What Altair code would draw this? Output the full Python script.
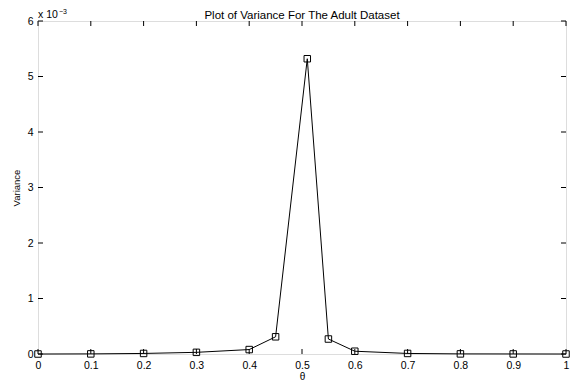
import altair as alt
import pandas as pd

# Data
theta = [0.0, 0.1, 0.2, 0.3, 0.4, 0.45, 0.51, 0.55, 0.6, 0.7, 0.8, 0.9, 1.0]
variance = [0.0, 0.002e-3, 0.01e-3, 0.03e-3, 0.08e-3, 0.31e-3, 5.32e-3,
            0.27e-3, 0.05e-3, 0.01e-3, 0.002e-3, 0.001e-3, 0.0]
x_ticks = [0.0, 0.1, 0.2, 0.3, 0.4, 0.5, 0.6, 0.7, 0.8, 0.9, 1.0]
y_ticks = [0.0, 0.001, 0.002, 0.003, 0.004, 0.005, 0.006]
title_text = "Plot of Variance For The Adult Dataset"

W, H = 528, 333
FONT = "Liberation Sans"

df = pd.DataFrame({"theta": theta, "variance": variance})
xt = pd.DataFrame({"t": x_ticks})
yt = pd.DataFrame({"t": y_ticks})

xscale = alt.Scale(domain=[0, 1], nice=False, zero=False)
yscale = alt.Scale(domain=[0, 0.006], nice=False, zero=False)

xaxis = alt.Axis(values=x_ticks, labelExpr="format(datum.value, '~g')",
                 tickSize=0, domain=False, grid=False, labelPadding=6,
                 labelFontSize=10.5, labelFont=FONT, labelColor="black",
                 title="θ", titleFontSize=10, titleFont=FONT,
                 titleFontWeight="normal", titleColor="black", titlePadding=1,
                 labelFlush=False)
yaxis = alt.Axis(values=y_ticks, labelExpr="round(datum.value * 1000)",
                 tickSize=0, domain=False, grid=False, labelPadding=5,
                 labelFontSize=10.5, labelFont=FONT, labelColor="black",
                 title="Variance", titleFontSize=9.5, titleFont=FONT,
                 titleFontWeight="normal", titleColor="black", titlePadding=6,
                 labelFlush=False)

base = alt.Chart(df)
line = base.mark_line(color="black", strokeWidth=1).encode(
    x=alt.X("theta:Q", scale=xscale, axis=xaxis),
    y=alt.Y("variance:Q", scale=yscale, axis=yaxis),
)
pts = base.mark_point(shape="square", filled=False, color="black",
                      size=42, strokeWidth=1, opacity=1).encode(
    x=alt.X("theta:Q", scale=xscale),
    y=alt.Y("variance:Q", scale=yscale),
)

tick_style = dict(color="black", strokeWidth=1)
xb = alt.Chart(xt).mark_rule(**tick_style).encode(
    x=alt.X("t:Q", scale=xscale), y=alt.value(H), y2=alt.value(H - 5))
xtp = alt.Chart(xt).mark_rule(**tick_style).encode(
    x=alt.X("t:Q", scale=xscale), y=alt.value(0), y2=alt.value(5))
yl = alt.Chart(yt).mark_rule(**tick_style).encode(
    y=alt.Y("t:Q", scale=yscale), x=alt.value(0), x2=alt.value(5))
yr = alt.Chart(yt).mark_rule(**tick_style).encode(
    y=alt.Y("t:Q", scale=yscale), x=alt.value(W), x2=alt.value(W - 5))

one = alt.Chart(pd.DataFrame({"a": [0]}))
exp1 = one.mark_text(text="x 10", font=FONT, fontSize=10.5, align="left",
                     baseline="alphabetic", dx=0, dy=-3, color="black").encode(
    x=alt.datum(0, scale=xscale), y=alt.datum(0.006, scale=yscale))
exp2 = one.mark_text(text="−3", font=FONT, fontSize=7, align="left",
                     baseline="alphabetic", dx=21, dy=-7, color="black").encode(
    x=alt.datum(0, scale=xscale), y=alt.datum(0.006, scale=yscale))
ttl = one.mark_text(text=title_text, font=FONT, fontSize=11.5, align="center",
                    baseline="alphabetic", dy=-2, color="black").encode(
    x=alt.datum(0.5, scale=xscale), y=alt.datum(0.006, scale=yscale))

chart = alt.layer(line, pts, xb, xtp, yl, yr, exp1, exp2, ttl).properties(
    width=W, height=H,
    autosize=alt.AutoSizeParams(type="none"),
    padding={"left": 30, "top": 13, "right": 4, "bottom": 30},
).configure_view(stroke="black", strokeWidth=1).configure(background="white")

chart.save("out.html", embed_options={"renderer": "svg", "actions": False})
